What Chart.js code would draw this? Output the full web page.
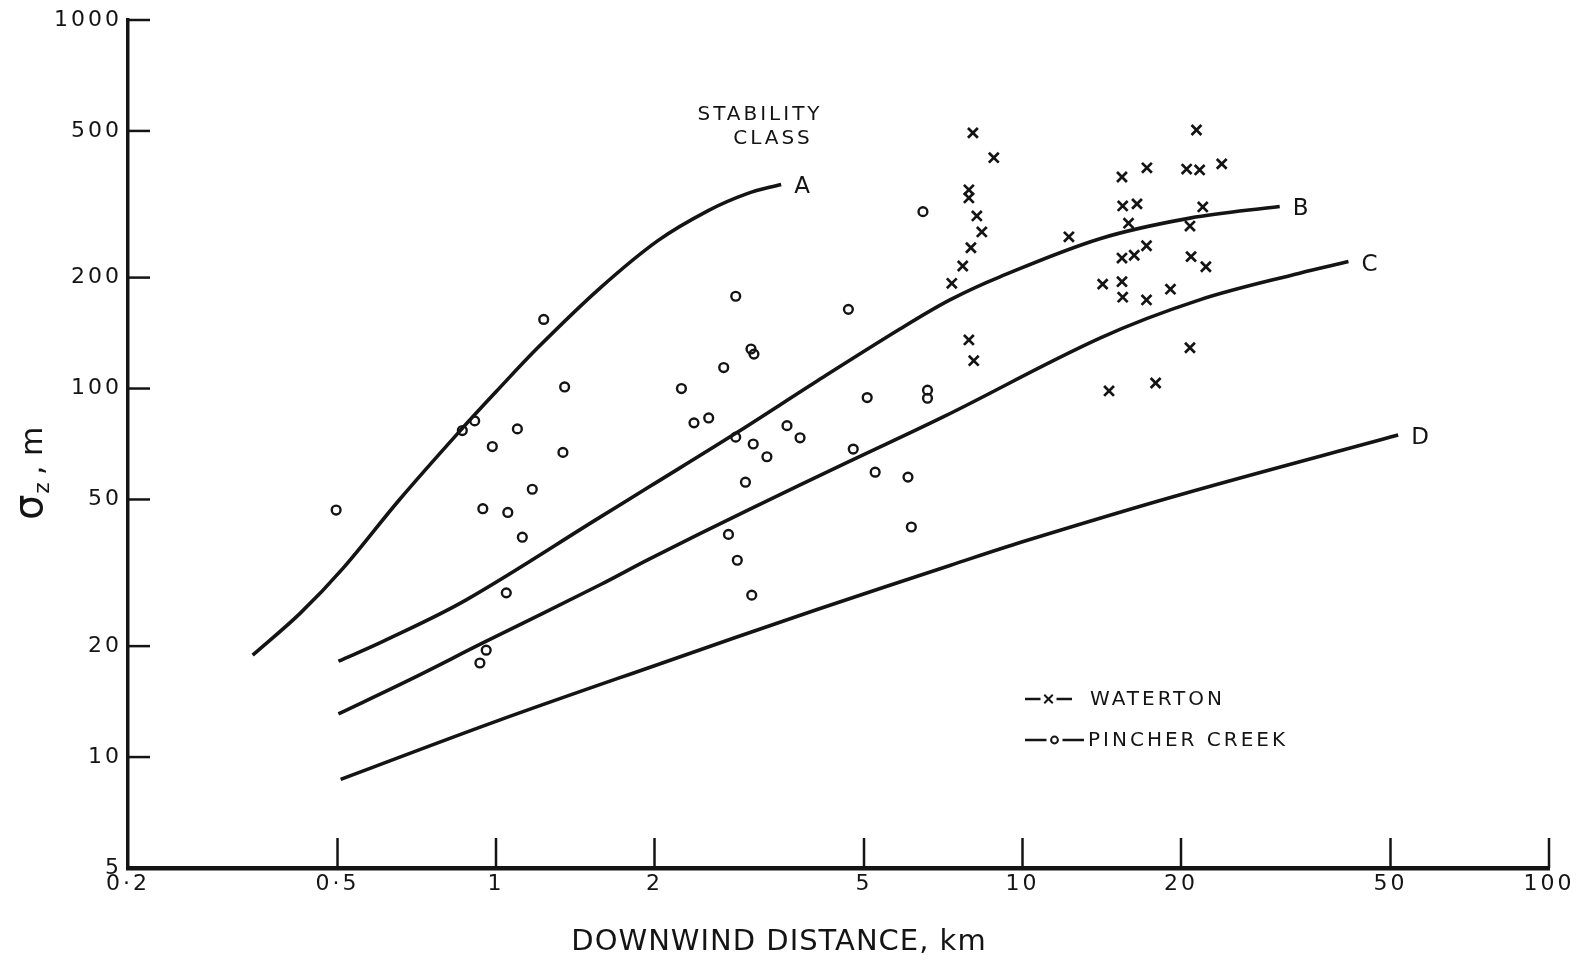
<!DOCTYPE html>
<html>
<head>
<meta charset="utf-8">
<script src="https://cdn.jsdelivr.net/npm/chart.js@4.4.0/dist/chart.umd.min.js"></script>
<style>
  html, body { margin: 0; padding: 0; background: #fff; }
  canvas { display: block; }
</style>
</head>
<body>
<canvas id="sigmaChart" width="1587" height="962"></canvas>
<script>
// axis ticks
const xTicks = [0.2, 0.5, 1, 2, 5, 10, 20, 50, 100];
const xTickLabels = ['0·2', '0·5', '1', '2', '5', '10', '20', '50', '100'];
const yTicks = [5, 10, 20, 50, 100, 200, 500, 1000];

// stability class curves: downwind distance (km) and sigma z (m)
const classAx = [0.345, 0.424, 0.512, 0.656, 0.863, 1.0, 1.2, 1.574, 2.03, 2.53, 3.0, 3.48];
const classAy = [18.9, 24.5, 32.5, 50, 78, 98, 129, 187, 252, 304, 338, 358];
const classBx = [0.502, 0.61, 0.878, 1.574, 1.958, 2.853, 4.06, 5.85, 7.28, 9.06, 14.03, 20.8, 30.8];
const classBy = [18.2, 20.6, 26.7, 44.7, 54.2, 75.6, 104.5, 145, 174, 201, 255, 290, 312];
const classCx = [0.502, 0.685, 0.944, 1.574, 1.958, 3.03, 4.7, 7.1, 14.03, 21.7, 33.6, 41.6];
const classCy = [13.1, 16.2, 20.4, 29.3, 34.5, 47, 63.5, 84, 137, 174, 205.6, 221];
const classDx = [0.507, 1.0, 2.0, 4.06, 7.28, 10, 20, 51.7];
const classDy = [8.7, 12.5, 17.7, 25.1, 33.1, 38.4, 51.6, 74.8];

// measurements
const watertonX = [7.34, 7.70, 7.91, 7.91, 7.91, 7.98, 8.05, 8.08, 8.19, 8.37, 8.82,
  12.25, 14.2, 14.6, 15.45, 15.5, 15.9, 15.45, 15.45, 15.5, 16.3, 16.5, 17.2, 17.2, 17.23,
  17.9, 19.1, 20.5, 20.8, 20.8, 20.9, 21.4, 21.7, 22.0, 22.3, 23.9];
const watertonY = [193, 215, 346, 329, 135.5, 241, 494, 119, 294, 266, 423,
  258, 192, 98.5, 375, 313, 281, 226, 195, 177, 230, 317, 244, 174, 397,
  103.5, 186, 394, 276, 129, 228, 503, 392, 311, 214, 407];

const pincherX = [0.497, 0.863, 0.911, 0.944, 0.932, 0.958, 0.984, 1.046, 1.053, 1.098, 1.122,
  1.172, 1.232, 1.34, 1.35, 2.25, 2.377, 2.535, 2.707, 2.764, 2.853, 2.853, 2.873, 2.977,
  3.05, 3.09, 3.06, 3.08, 3.27, 3.57, 3.78, 4.67, 4.77, 5.07, 5.25, 6.06, 6.15, 6.47, 6.60, 6.60];
const pincherY = [46.8, 76.9, 81.7, 47.2, 18.0, 19.5, 69.6, 27.9, 46.1, 77.7, 39.5,
  53.3, 154, 67.1, 101, 100, 80.7, 83.2, 114, 40.2, 178, 73.8, 34.2, 55.7,
  128, 124, 27.5, 70.7, 65.3, 79.3, 73.5, 164, 68.5, 94.5, 59.3, 57.5, 42.1, 302, 99, 94.1];

const ink = '#141414';
const letterFont = '"DejaVu Sans", sans-serif';

function pairs(xs, ys) {
  return xs.map((x, i) => ({ x: x, y: ys[i] }));
}

function curve(label, xs, ys) {
  return {
    label: label,
    data: pairs(xs, ys),
    showLine: true,
    borderColor: ink,
    borderWidth: 3.6,
    pointRadius: 0,
    tension: 0.35,
    fill: false
  };
}

// letter spacing for the axis lettering
const spacing = {
  id: 'spacing',
  beforeDraw(chart) { chart.ctx.letterSpacing = '3px'; },
  beforeDatasetsDraw(chart) { chart.ctx.letterSpacing = '0px'; }
};

// inward ticks, curve labels, titles and legend
const overlay = {
  id: 'overlay',
  afterDraw(chart) {
    const ctx = chart.ctx;
    const xs = chart.scales.x, ys = chart.scales.y;
    const area = chart.chartArea;
    ctx.save();
    ctx.strokeStyle = ink;
    ctx.fillStyle = ink;
    ctx.lineWidth = 2.5;
    yTicks.slice(1).forEach(v => {
      const py = ys.getPixelForValue(v);
      ctx.beginPath(); ctx.moveTo(area.left, py); ctx.lineTo(area.left + 22, py); ctx.stroke();
    });
    xTicks.slice(1).forEach(v => {
      const px = xs.getPixelForValue(v);
      ctx.beginPath(); ctx.moveTo(px, area.bottom); ctx.lineTo(px, area.bottom - 30); ctx.stroke();
    });

    // class letters at the end of each curve
    ctx.letterSpacing = '0px';
    ctx.font = '23px ' + letterFont;
    ctx.textAlign = 'left';
    ctx.textBaseline = 'middle';
    chart.data.datasets.slice(0, 4).forEach(ds => {
      const last = ds.data[ds.data.length - 1];
      ctx.fillText(ds.label, xs.getPixelForValue(last.x) + 13, ys.getPixelForValue(last.y) + 3);
    });

    // stability class heading
    ctx.letterSpacing = '3px';
    ctx.font = '20px ' + letterFont;
    ctx.textAlign = 'center';
    ctx.fillText('STABILITY', 760, 115);
    ctx.fillText('CLASS', 773, 139);

    // x title
    ctx.letterSpacing = '1px';
    ctx.font = '29px ' + letterFont;
    ctx.fillText('DOWNWIND DISTANCE, km', 779, 942);

    // y title: sigma z , m
    ctx.save();
    ctx.translate(42, 520);
    ctx.rotate(-Math.PI / 2);
    ctx.letterSpacing = '0px';
    ctx.textAlign = 'left';
    ctx.textBaseline = 'alphabetic';
    ctx.font = '40px ' + letterFont;
    ctx.fillText('σ', 0, 0);
    let w = ctx.measureText('σ').width;
    ctx.font = '22px ' + letterFont;
    ctx.fillText('z', w + 1, 7);
    w += ctx.measureText('z').width + 8;
    ctx.font = '30px ' + letterFont;
    ctx.fillText(', m', w, 0);
    ctx.restore();

    // legend
    ctx.letterSpacing = '3px';
    ctx.font = '20px ' + letterFont;
    ctx.textAlign = 'left';
    ctx.textBaseline = 'middle';
    ctx.lineWidth = 2.5;
    const rows = [
      { y: 699, style: 'crossRot', r: 6, text: 'WATERTON', tx: 1090, x0: 1025, x1: 1072 },
      { y: 740, style: 'circle', r: 3.4, text: 'PINCHER CREEK', tx: 1088, x0: 1025, x1: 1084 }
    ];
    rows.forEach(row => {
      const mid = (row.x0 + row.x1) / 2;
      ctx.beginPath();
      ctx.moveTo(row.x0, row.y); ctx.lineTo(mid - 8, row.y);
      ctx.moveTo(mid + 8, row.y); ctx.lineTo(row.x1, row.y);
      ctx.stroke();
      ctx.fillStyle = '#fff';
      ctx.lineWidth = 2;
      Chart.helpers.drawPoint(ctx, { pointStyle: row.style, radius: row.r, borderWidth: 2 }, mid, row.y);
      ctx.lineWidth = 2.5;
      ctx.fillStyle = ink;
      ctx.fillText(row.text, row.tx, row.y + 1);
    });
    ctx.restore();
  }
};

new Chart(document.getElementById('sigmaChart'), {
  type: 'scatter',
  data: {
    datasets: [
      curve('A', classAx, classAy),
      curve('B', classBx, classBy),
      curve('C', classCx, classCy),
      curve('D', classDx, classDy),
      {
        label: 'WATERTON',
        data: pairs(watertonX, watertonY),
        pointStyle: 'crossRot',
        pointRadius: 7,
        borderColor: ink,
        borderWidth: 2.7,
        showLine: false
      },
      {
        label: 'PINCHER CREEK',
        data: pairs(pincherX, pincherY),
        pointStyle: 'circle',
        pointRadius: 4.4,
        borderColor: ink,
        backgroundColor: 'rgba(255,255,255,0)',
        borderWidth: 2.4,
        showLine: false
      }
    ]
  },
  options: {
    responsive: false,
    animation: false,
    layout: { padding: { top: 20, right: 38, left: 0, bottom: 0 } },
    plugins: {
      legend: { display: false },
      tooltip: { enabled: false }
    },
    scales: {
      x: {
        type: 'logarithmic',
        min: 0.2,
        max: 100,
        afterBuildTicks: scale => { scale.ticks = xTicks.map(v => ({ value: v })); },
        afterFit: scale => { scale.height = 94; },
        grid: { display: false, drawTicks: false, tickLength: 0 },
        border: { display: true, color: ink, width: 4.5 },
        ticks: {
          autoSkip: false,
          maxRotation: 0,
          padding: 3,
          color: ink,
          font: { family: letterFont, size: 22 },
          callback: value => xTickLabels[xTicks.indexOf(value)]
        }
      },
      y: {
        type: 'logarithmic',
        min: 5,
        max: 1000,
        afterBuildTicks: scale => { scale.ticks = yTicks.map(v => ({ value: v })); },
        afterFit: scale => { scale.width = 128; },
        grid: { display: false, drawTicks: false, tickLength: 0 },
        border: { display: true, color: ink, width: 3.5 },
        ticks: {
          autoSkip: false,
          padding: 6,
          color: ink,
          font: { family: letterFont, size: 22 },
          callback: value => String(value)
        }
      }
    }
  },
  plugins: [spacing, overlay]
});
</script>
</body>
</html>
